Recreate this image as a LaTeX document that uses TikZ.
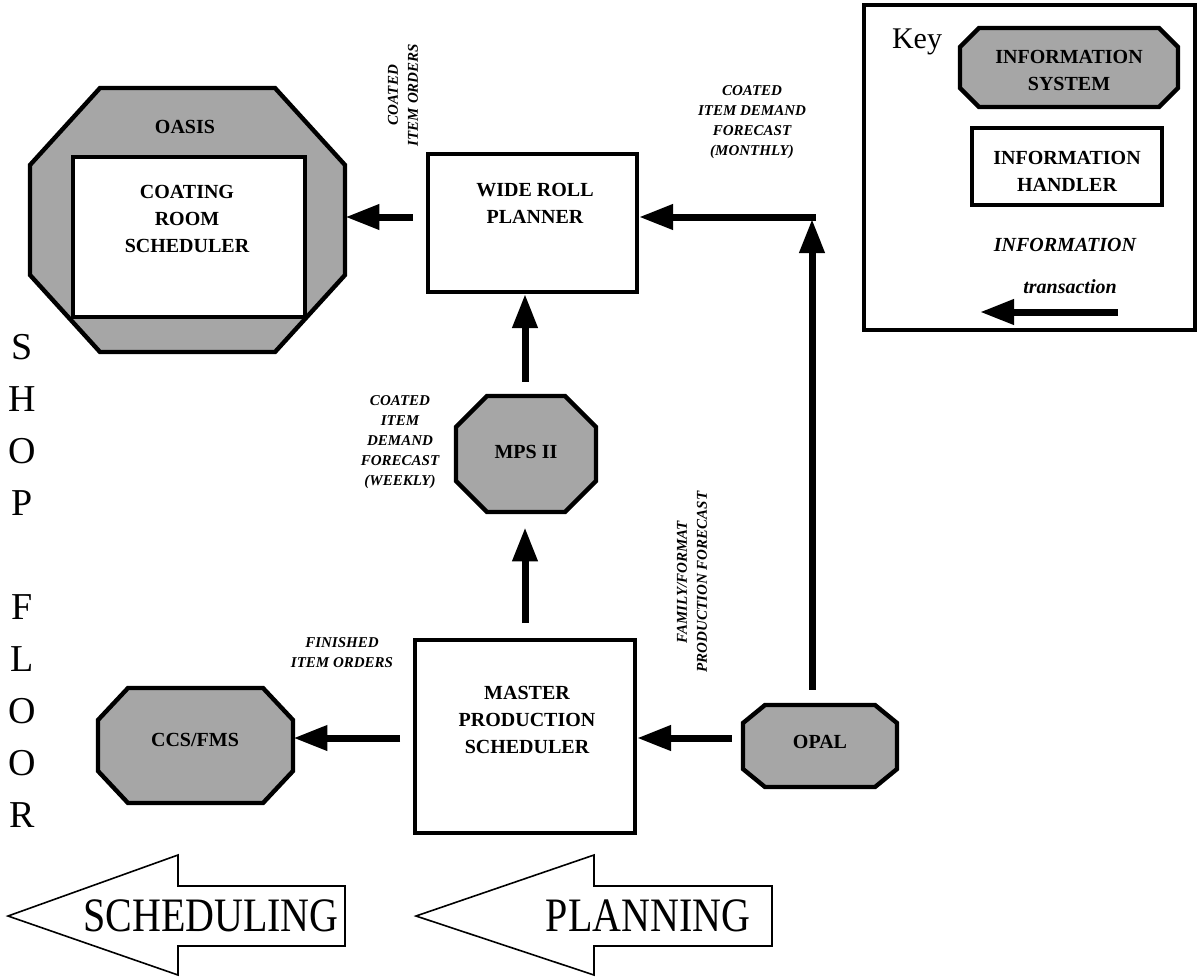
\documentclass[tikz,border=0pt]{standalone}
\usepackage{fontspec}
\usepackage{graphicx}
\setmainfont{Liberation Serif}
\usetikzlibrary{arrows.meta,fit}
\pgfdeclarelayer{background}
\pgfsetlayers{background,main}

% octagonal information-system outline: name, x1, y1, x2, y2, chamfer x, chamfer y
\newcommand\infosystem[7]{%
  \begin{pgfonlayer}{background}
    \draw[sysline] ({#2+#6},#3) -- ({#4-#6},#3) -- (#4,{#3+#7}) -- (#4,{#5-#7})
      -- ({#4-#6},#5) -- ({#2+#6},#5) -- (#2,{#5-#7}) -- (#2,{#3+#7}) -- cycle;
  \end{pgfonlayer}
  \node[inner sep=0pt, fit={(#2,#3) (#4,#5)}] (#1) {};
}

\begin{document}
\begin{tikzpicture}[x=0.5pt, y=-0.5pt,
  boxtext/.style={font=\fontsize{10}{13.5}\selectfont\bfseries, align=center, inner sep=0pt},
  flowlabel/.style={font=\fontsize{7.5}{10}\selectfont\bfseries\itshape, align=center, inner sep=0pt},
  keytext/.style={font=\fontsize{10}{13}\selectfont\bfseries\itshape, inner sep=0pt},
  handler/.style={draw, line width=2pt, fill=white, inner sep=0pt},
  sysline/.style={draw, line width=2.2pt, fill=black!35, line join=miter},
  flow/.style={line width=3.5pt, -{Triangle[length=17pt,width=12pt]}},
  bigarrow/.style={draw, line width=0.8pt, line join=miter},
  floorletter/.style={font=\fontsize{19}{19}\selectfont, inner sep=0pt},
  bigword/.style={font=\fontsize{20}{20}\selectfont, inner sep=0pt}]

\useasboundingbox (0,0) rectangle (1198,976);
\begin{pgfonlayer}{background}
  \fill[white] (0,0) rectangle (1198,976);
\end{pgfonlayer}

% rows and columns used by the connectors
\coordinate (row1) at (0,217);
\coordinate (row3) at (0,738);
\coordinate (col) at (525,0);
\coordinate (bend) at (816,217);
\coordinate (bendv) at (812,219);

% ---------- OASIS with the coating room scheduler ----------
\infosystem{oasis}{30}{88}{345}{352}{70}{77}
\node[handler, fit={(73,157) (305,317)}] (crs) {};
\node[boxtext] (oasistext) at (185,127) {OASIS};
\node[boxtext] (crstext) at (187,219) {COATING\\ROOM\\SCHEDULER};

% ---------- wide roll planner ----------
\node[handler, fit={(428,154) (637,292)}] (wideroll) {};
\node[boxtext] (widerolltext) at (535,203) {WIDE ROLL\\PLANNER};

% ---------- MPS II ----------
\infosystem{mps}{456}{396}{596}{512}{31}{31}
\node[boxtext] (mpstext) at (526,452) {MPS II};

% ---------- master production scheduler ----------
\node[handler, fit={(415,640) (635,833)}] (master) {};
\node[boxtext] (mastertext) at (527,720) {MASTER\\PRODUCTION\\SCHEDULER};

% ---------- CCS/FMS and OPAL ----------
\infosystem{ccs}{98}{688}{293}{803}{30}{32}
\node[boxtext] (ccstext) at (195,740) {CCS/FMS};
\infosystem{opal}{743}{705}{897}{787}{22}{18}
\node[boxtext] (opaltext) at (820,742) {OPAL};

% ---------- information transactions ----------
\draw[flow, shorten <=6.5pt] (wideroll.west |- row1) -- (oasis.east |- row1);
\draw[flow] (bend) -- (wideroll.east |- bend);
\draw[flow, shorten <=7.5pt] (bendv |- opal.north) -- (bendv);
\draw[flow, shorten <=7pt] (col |- mps.north) -- (col |- wideroll.south);
\draw[flow, shorten <=7.5pt, shorten >=7.5pt] (col |- master.north) -- (col |- mps.south);
\draw[flow, shorten <=5.5pt] (opal.west |- row3) -- (master.east |- row3);
\draw[flow, shorten <=6.5pt] (master.west |- row3) -- (ccs.east |- row3);

\node[flowlabel, rotate=90] (lblorders) at (403,95) {COATED\\ITEM ORDERS};
\node[flowlabel] (lblmonthly) at (752,122) {COATED\\ITEM DEMAND\\FORECAST\\(MONTHLY)};
\node[flowlabel] (lblweekly) at (400,442) {COATED\\ITEM\\DEMAND\\FORECAST\\(WEEKLY)};
\node[flowlabel] (lblfinished) at (342,653) {FINISHED\\ITEM ORDERS};
\node[flowlabel, rotate=90] (lblfamily) at (692,582) {FAMILY/FORMAT\\PRODUCTION FORECAST};

% ---------- key ----------
\node[handler, fill=none, fit={(864,5) (1195,330)}] (keybox) {};
\node[font=\fontsize{15}{15}\selectfont, inner sep=0pt, anchor=base] (keytitle) at (917,48) {Key};
\infosystem{keysys}{960}{28}{1178}{107}{19}{19}
\node[boxtext] (keysystext) at (1069,70) {INFORMATION\\SYSTEM};
\node[handler, fit={(972,128) (1162,205)}] (keyhandler) {};
\node[boxtext] (keyhandlertext) at (1067,171) {INFORMATION\\HANDLER};
\node[keytext] (keyinfo) at (1065,245) {INFORMATION};
\node[keytext] (keytrans) at (1070,287) {transaction};
\coordinate (keytail) at (1118,312);
\coordinate (keyhead) at (980,312);
\draw[flow] (keytail) -- (keyhead);

% ---------- shop floor ----------
\foreach \ch/\yy [count=\i] in {S/347,H/399,O/451,P/503,F/607,L/659,O/711,O/763,R/815}
  \node[floorletter] (floor\i) at (22,\yy) {\ch};

% ---------- scheduling and planning arrows ----------
\draw[bigarrow] (8,916) -- (178,855) -- (178,886) -- (345,886) -- (345,946)
  -- (178,946) -- (178,975) -- cycle;
\node[bigword] (sched) at (211,916) {\scalebox{1}[1.2]{SCHEDULING}};
\draw[bigarrow] (416,916) -- (594,855) -- (594,886) -- (772,886) -- (772,946)
  -- (594,946) -- (594,975) -- cycle;
\node[bigword] (plan) at (648,916) {\scalebox{1}[1.2]{PLANNING}};
\end{tikzpicture}
\end{document}
